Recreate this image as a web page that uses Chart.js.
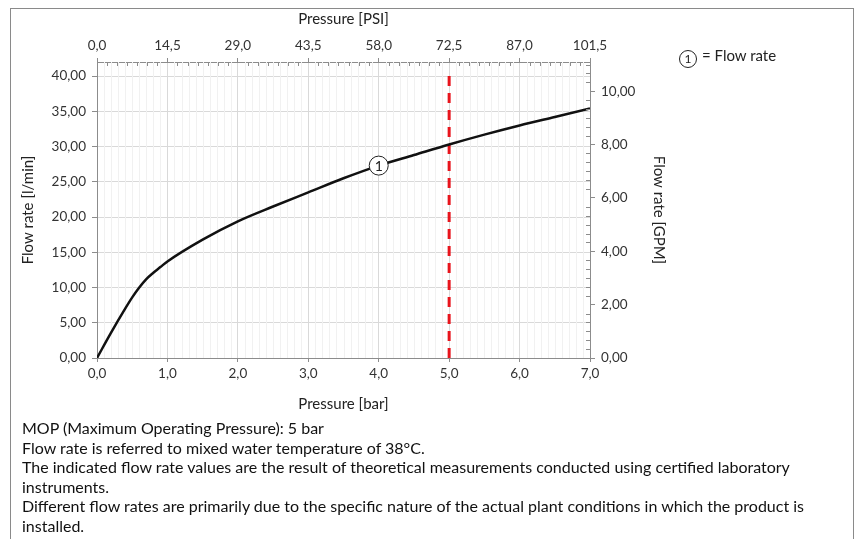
<!DOCTYPE html>
<html>
<head>
<meta charset="utf-8">
<script src="https://cdn.jsdelivr.net/npm/chart.js@4.4.1/dist/chart.umd.min.js"></script>
<style>
  body { margin: 0; background: #fff; font-family: Lato, sans-serif; }
  #wrap { position: relative; width: 860px; height: 539px; overflow: hidden; }
  #frame { position: absolute; left: 10px; top: 8px; width: 842px; height: 560px; border: 1px solid #8a8a8a; }
  #chartBox { position: absolute; left: 0; top: 0; width: 860px; height: 420px; }
  #legend { position: absolute; left: 679px; top: 46px; font-size: 15px; color: #222; }
  .circ { display: inline-block; width: 16px; height: 16px; border: 1px solid #222; border-radius: 50%;
          text-align: center; line-height: 16px; font-size: 12px; margin-right: 5px; vertical-align: -2px; }
  #notes { position: absolute; left: 22px; top: 418px; font-size: 16px; line-height: 19.5px; color: #111; width: 830px; white-space: nowrap; }
</style>
</head>
<body>
<div id="wrap">
  <div id="frame"></div>
  <div id="chartBox"><canvas id="chart" width="860" height="420"></canvas></div>
  <div id="legend"><span class="circ">1</span>= Flow rate</div>
  <div id="notes">
    MOP (Maximum Operating Pressure): 5 bar<br>
    Flow rate is referred to mixed water temperature of 38°C.<br>
    The indicated flow rate values are the result of theoretical measurements conducted using certified laboratory<br>
    instruments.<br>
    Different flow rates are primarily due to the specific nature of the actual plant conditions in which the product is<br>
    installed.
  </div>
</div>
<script>
// curve (bar -> l/min)
var pressureBar = [0, 0.2, 0.4, 0.5, 0.6, 0.7, 0.8, 0.9, 1.0, 1.5, 2.0, 2.5, 3.0, 3.5, 4.0, 4.5, 5.0, 5.5, 6.0, 6.5, 7.0]
var flowLmin = [0, 3.6, 7.0, 8.6, 10.0, 11.2, 12.1, 12.9, 13.7, 16.8, 19.4, 21.5, 23.5, 25.5, 27.3, 28.8, 30.3, 31.7, 33.0, 34.2, 35.4]

var mopBar = 5.0
var mopLine = [0, 41]
var markerBar = 4.0
var markerText = "1"

var barTicks = [0, 1, 2, 3, 4, 5, 6, 7]
var psiTicks = [0, 14.5, 29, 43.5, 58, 72.5, 87, 101.5]
var lminTicks = [0, 5, 10, 15, 20, 25, 30, 35, 40]
var gpmTicks = [0, 2, 4, 6, 8, 10]

var lminMax = 42
var lPerGal = 3.785

const fmt = (d) => (v) => Number(v).toFixed(d).replace(".", ",")
const fixTicks = (arr) => (axis) => { axis.ticks = arr.map(v => ({ value: v })) }

var GRID = "#d9d9d9", MINOR = "#f1f1f1", AXIS = "#8c8c8c", TXT = "#333"

// minor grid + minor tick marks, drawn through the scales
const extras = {
    id: "extras",
    beforeDatasetsDraw(chart) {
        let ctx = chart.ctx, a = chart.chartArea, sx = chart.scales.x
        ctx.save()
        ctx.strokeStyle = MINOR
        ctx.lineWidth = 1
        for (let i = 1; i < 70; i++) {
            if (i % 10 == 0) continue
            let px = Math.round(sx.getPixelForValue(i / 10)) + 0.5
            ctx.beginPath(); ctx.moveTo(px, a.top); ctx.lineTo(px, a.bottom); ctx.stroke()
        }
        ctx.restore()
    },
    afterDraw(chart) {
        let ctx = chart.ctx, a = chart.chartArea
        let top = chart.scales.x2, right = chart.scales.y2
        ctx.save()
        ctx.strokeStyle = AXIS
        ctx.lineWidth = 1
        for (let i = 1; i < 49; i++) {
            if (i % 7 == 0) continue
            let px = Math.round(top.getPixelForValue(i * 14.5 / 7)) + 0.5
            ctx.beginPath(); ctx.moveTo(px, a.top); ctx.lineTo(px, a.top + 4); ctx.stroke()
        }
        for (let i = 1; i < 34; i++) {
            if (i % 6 == 0) continue
            let py = Math.round(right.getPixelForValue(i / 3)) + 0.5
            ctx.beginPath(); ctx.moveTo(a.right - 4, py); ctx.lineTo(a.right, py); ctx.stroke()
        }
        // numbered circle on the curve
        let idx = pressureBar.indexOf(markerBar)
        let cx = chart.scales.x.getPixelForValue(markerBar)
        let cy = chart.scales.y.getPixelForValue(flowLmin[idx])
        ctx.beginPath()
        ctx.arc(cx, cy, 9.5, 0, Math.PI * 2)
        ctx.fillStyle = "#fff"; ctx.fill()
        ctx.strokeStyle = "#222"; ctx.stroke()
        ctx.fillStyle = "#222"
        ctx.font = "14px Lato"
        ctx.textAlign = "center"; ctx.textBaseline = "middle"
        ctx.fillText(markerText, cx, cy + 1)
        ctx.restore()
    }
}

Chart.defaults.font.family = "Lato"
Chart.defaults.font.size = 13.5
Chart.defaults.color = TXT

var ctx = document.getElementById("chart").getContext("2d")
var graph = new Chart(ctx, {
    type: "scatter",
    data: {
        datasets: [{
            data: pressureBar.map((p, i) => ({ x: p, y: flowLmin[i] })),
            showLine: true,
            borderColor: "#111",
            borderWidth: 2.5,
            pointRadius: 0,
            cubicInterpolationMode: "monotone",
            xAxisID: "x", yAxisID: "y"
        }, {
            data: mopLine.map(v => ({ x: mopBar, y: v })),
            showLine: true,
            borderColor: "#e8141c",
            borderWidth: 3,
            borderDash: [10, 7],
            pointRadius: 0,
            xAxisID: "x", yAxisID: "y"
        }]
    },
    options: {
        responsive: false,
        animation: false,
        layout: { padding: { left: 15, right: 188, top: 6, bottom: 3 } },
        plugins: { legend: { display: false }, tooltip: { enabled: false } },
        scales: {
            x: {
                type: "linear", position: "bottom", min: 0, max: 7,
                afterBuildTicks: fixTicks(barTicks),
                afterFit: (s) => { s.height = 59 },
                ticks: { callback: fmt(1), padding: 4, maxRotation: 0 },
                grid: { color: GRID, tickColor: AXIS, tickLength: 4 },
                border: { color: AXIS },
                title: { display: true, text: "Pressure [bar]", font: { size: 15 }, color: "#222" }
            },
            x2: {
                type: "linear", position: "top", min: 0, max: 101.5,
                afterBuildTicks: fixTicks(psiTicks),
                afterFit: (s) => { s.height = 56 },
                ticks: { callback: fmt(1), padding: 4, maxRotation: 0 },
                grid: { drawOnChartArea: false, tickColor: AXIS, tickLength: 4 },
                border: { color: AXIS },
                title: { display: true, text: "Pressure [PSI]", font: { size: 15 }, color: "#222" }
            },
            y: {
                type: "linear", position: "left", min: 0, max: lminMax,
                afterBuildTicks: fixTicks(lminTicks),
                afterFit: (s) => { s.width = 82 },
                ticks: { callback: fmt(2), padding: 6 },
                grid: { color: GRID, tickColor: AXIS, tickLength: 5 },
                border: { color: AXIS },
                title: { display: true, text: "Flow rate [l/min]", font: { size: 15 }, color: "#222" }
            },
            y2: {
                type: "linear", position: "right", min: 0, max: lminMax / lPerGal,
                afterBuildTicks: fixTicks(gpmTicks),
                afterFit: (s) => { s.width = 82 },
                ticks: { callback: fmt(2), padding: 6 },
                grid: { drawOnChartArea: false, tickColor: AXIS, tickLength: 5 },
                border: { color: AXIS },
                title: { display: true, text: "Flow rate [GPM]", font: { size: 15 }, color: "#222" }
            }
        }
    },
    plugins: [extras]
})
</script>
</body>
</html>
